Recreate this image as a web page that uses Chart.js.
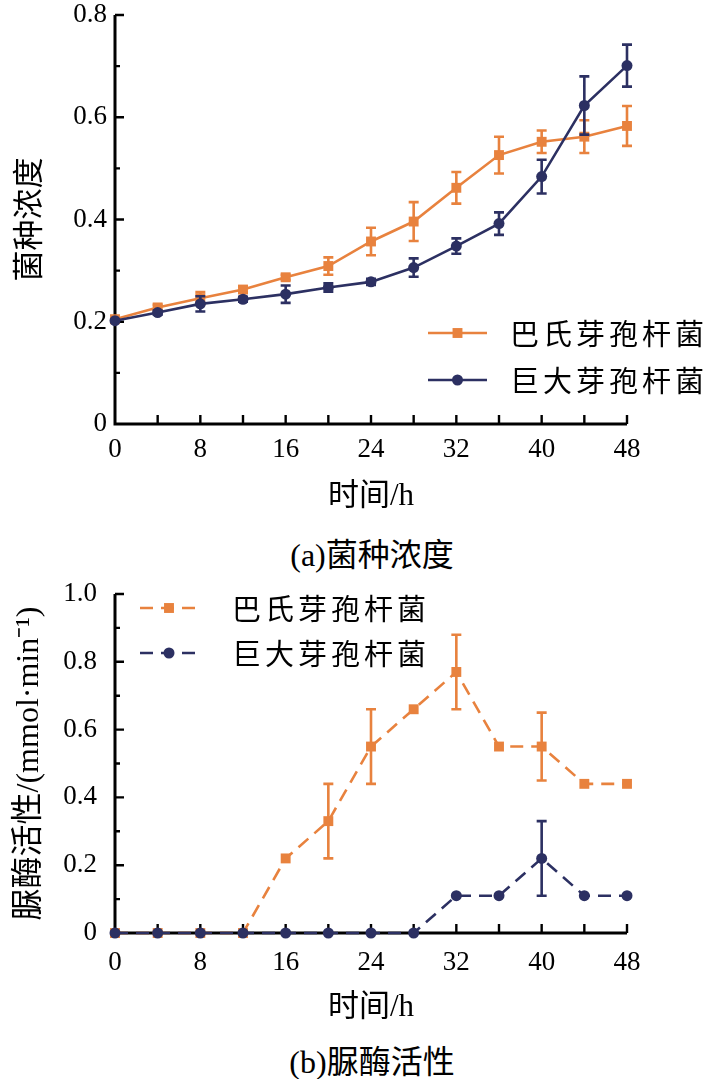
<!DOCTYPE html>
<html>
<head>
<meta charset="utf-8">
<script src="https://cdn.jsdelivr.net/npm/chart.js@4.4.0/dist/chart.umd.min.js"></script>
<style>
  body { margin: 0; background: #fff; width: 708px; height: 1079px; position: relative; overflow: hidden; }
  canvas { position: absolute; left: 0; }
  #chartA { top: 0; }
  #chartB { top: 575px; }
  .cap { position: absolute; left: 0; width: 744px; text-align: center; line-height: 38px;
         font: 32px 'Liberation Serif', 'Noto Sans CJK SC'; color: #000; }
</style>
</head>
<body>
<canvas id="chartA" width="708" height="520"></canvas>
<div class="cap" style="top:529px">(a)菌种浓度</div>
<canvas id="chartB" width="708" height="455"></canvas>
<div class="cap" style="top:1036px">(b)脲酶活性</div>

<script>
// data
const hours = [0, 4, 8, 12, 16, 20, 24, 28, 32, 36, 40, 44, 48];
const seriesNames = ['巴氏芽孢杆菌', '巨大芽孢杆菌'];

// (a) 菌种浓度
const densityBp    = [0.205, 0.228, 0.246, 0.263, 0.287, 0.309, 0.357, 0.396, 0.462, 0.526, 0.552, 0.562, 0.583];
const densityBpErr = [0, 0.005, 0.012, 0.006, 0.005, 0.017, 0.027, 0.038, 0.031, 0.036, 0.022, 0.032, 0.039];
const densityBm    = [0.202, 0.218, 0.235, 0.244, 0.254, 0.267, 0.278, 0.306, 0.348, 0.392, 0.484, 0.623, 0.701];
const densityBmErr = [0, 0.004, 0.015, 0.005, 0.017, 0.008, 0.006, 0.018, 0.015, 0.022, 0.033, 0.057, 0.041];

// (b) 脲酶活性
const ureaseBp    = [0, 0, 0, 0, 0.22, 0.33, 0.55, 0.66, 0.77, 0.55, 0.55, 0.44, 0.44];
const ureaseBpErr = [0, 0, 0, 0, 0, 0.11, 0.11, 0, 0.11, 0, 0.10, 0, 0];
const ureaseBm    = [0, 0, 0, 0, 0, 0, 0, 0, 0.11, 0.11, 0.22, 0.11, 0.11];
const ureaseBmErr = [0, 0, 0, 0, 0, 0, 0, 0, 0, 0, 0.11, 0, 0];

const ORANGE = '#E8823E';
const NAVY = '#2C3062';
const SERIF = "'Liberation Serif', 'Noto Sans CJK SC'";

function toPts(vals) {
  return vals.map((v, i) => ({ x: hours[i], y: v }));
}

// axis lines + inward ticks (major/minor on y, every 4h on x)
const axisTicks = {
  id: 'axisTicks',
  beforeDatasetsDraw(chart) {
    const { ctx, chartArea: a, scales: { x, y } } = chart;
    ctx.save();
    ctx.strokeStyle = '#000';
    ctx.lineWidth = 3;
    ctx.lineJoin = 'miter';
    ctx.beginPath();
    ctx.moveTo(a.left, a.top);
    ctx.lineTo(a.left, a.bottom);
    ctx.lineTo(a.right, a.bottom);
    ctx.stroke();
    ctx.lineWidth = 2.4;
    ctx.beginPath();
    const n = Math.round(y.max * 10);
    for (let i = 1; i <= n; i++) {
      const py = y.getPixelForValue(i / 10);
      ctx.moveTo(a.left, py);
      ctx.lineTo(a.left + (i % 2 === 0 ? 9 : 5), py);
    }
    for (let h = 4; h <= x.max; h += 4) {
      const px = x.getPixelForValue(h);
      ctx.moveTo(px, a.bottom);
      ctx.lineTo(px, a.bottom - 9);
    }
    ctx.stroke();
    ctx.restore();
  }
};

// vertical error bars with caps
const errorBars = {
  id: 'errorBars',
  beforeDatasetDraw(chart, args, opts) {
    const errs = opts.errors && opts.errors[args.index];
    if (!errs) return;
    const ds = chart.data.datasets[args.index];
    const { ctx, scales: { x, y } } = chart;
    ctx.save();
    ctx.strokeStyle = ds.borderColor;
    ctx.lineWidth = 2.6;
    ctx.setLineDash([]);
    ctx.beginPath();
    ds.data.forEach((p, i) => {
      const e = errs[i];
      if (!e) return;
      const px = x.getPixelForValue(p.x);
      const t = y.getPixelForValue(p.y + e);
      const b = y.getPixelForValue(p.y - e);
      ctx.moveTo(px, t); ctx.lineTo(px, b);
      ctx.moveTo(px - 5, t); ctx.lineTo(px + 5, t);
      ctx.moveTo(px - 5, b); ctx.lineTo(px + 5, b);
    });
    ctx.stroke();
    ctx.restore();
  }
};

// legend: line sample with marker in the middle, then label
const lineLegend = {
  id: 'lineLegend',
  afterDraw(chart, args, opts) {
    const { ctx } = chart;
    ctx.save();
    chart.data.datasets.forEach((ds, i) => {
      const y0 = opts.y + i * opts.gap;
      ctx.strokeStyle = ds.borderColor;
      ctx.fillStyle = ds.borderColor;
      ctx.lineWidth = 2.6;
      ctx.setLineDash(ds.borderDash || []);
      ctx.beginPath();
      ctx.moveTo(opts.x, y0);
      ctx.lineTo(opts.x + opts.len, y0);
      ctx.stroke();
      ctx.setLineDash([]);
      const mx = opts.x + opts.len / 2;
      ctx.beginPath();
      if (ds.pointStyle === 'rect') {
        const s = ds.pointRadius * Math.SQRT1_2;
        ctx.rect(mx - s, y0 - s, 2 * s, 2 * s);
      } else {
        ctx.arc(mx, y0, ds.pointRadius, 0, Math.PI * 2);
      }
      ctx.fill();
      ctx.fillStyle = '#000';
      ctx.font = "29px 'Noto Sans CJK SC'";
      ctx.letterSpacing = '4px';
      ctx.textBaseline = 'middle';
      ctx.fillText(ds.label, opts.textX, y0 + 1);
    });
    ctx.restore();
  }
};

function makeChart(id, c) {
  return new Chart(document.getElementById(id), {
    type: 'line',
    data: {
      datasets: [
        { label: seriesNames[0], data: toPts(c.bp), borderColor: ORANGE, backgroundColor: ORANGE,
          pointStyle: 'rect', pointRadius: 7, pointBorderWidth: 0, borderWidth: 2.6,
          borderDash: c.dash, order: 1, clip: false },
        { label: seriesNames[1], data: toPts(c.bm), borderColor: NAVY, backgroundColor: NAVY,
          pointStyle: 'circle', pointRadius: 5.5, pointBorderWidth: 0, borderWidth: 2.6,
          borderDash: c.dash, order: 0, clip: false }
      ]
    },
    options: {
      responsive: false,
      animation: false,
      events: [],
      layout: { padding: { left: 0, right: 81, top: c.top, bottom: 0 } },
      plugins: {
        legend: { display: false },
        tooltip: { enabled: false },
        errorBars: { errors: [c.bpErr, c.bmErr] },
        lineLegend: c.legend
      },
      scales: {
        x: {
          type: 'linear', min: 0, max: 48,
          grid: { display: false, drawTicks: false },
          border: { display: false },
          ticks: { stepSize: 8, autoSkip: false, maxRotation: 0, padding: c.xPad,
                   color: '#000', font: { family: SERIF, size: 27, lineHeight: 1 } },
          title: { display: true, text: '时间/h', color: '#000',
                   font: { family: SERIF, size: 31 }, padding: { top: 0, bottom: c.xTitlePad } },
          afterFit(s) { s.height = c.xHeight; s.paddingLeft = 0; s.paddingRight = 0; }
        },
        y: {
          min: 0, max: c.ymax,
          grid: { display: false, drawTicks: false },
          border: { display: false },
          ticks: { stepSize: 0.2, padding: c.yPad, color: '#000', font: { family: SERIF, size: 27, lineHeight: 1 },
                   callback: v => (v === 0 ? '0' : v.toFixed(1)) },
          title: { display: true, text: c.yTitle, color: '#000',
                   font: { family: SERIF, size: c.yTitleSize }, padding: { top: c.yTitlePad, bottom: 0 } },
          afterFit(s) { s.width = 115; s.paddingTop = 0; s.paddingBottom = 0; }
        }
      }
    },
    plugins: [axisTicks, errorBars, lineLegend]
  });
}

makeChart('chartA', {
  bp: densityBp, bm: densityBm, bpErr: densityBpErr, bmErr: densityBmErr,
  dash: [], ymax: 0.8, top: 15, xHeight: 96, xPad: 12, xTitlePad: 5, yPad: 8, yTitlePad: 12,
  yTitle: '菌种浓度', yTitleSize: 31,
  legend: { x: 428, len: 59, textX: 510, y: 333, gap: 47 }
});

makeChart('chartB', {
  bp: ureaseBp, bm: ureaseBm, bpErr: ureaseBpErr, bmErr: ureaseBmErr,
  dash: [13, 8], ymax: 1.0, top: 19, xHeight: 97, xPad: 16, xTitlePad: 4, yPad: 18, yTitlePad: 10,
  yTitle: '脲酶活性/(mmol·min⁻¹)', yTitleSize: 32,
  legend: { x: 140, len: 58, textX: 232, y: 33, gap: 45 }
});
</script>
</body>
</html>
